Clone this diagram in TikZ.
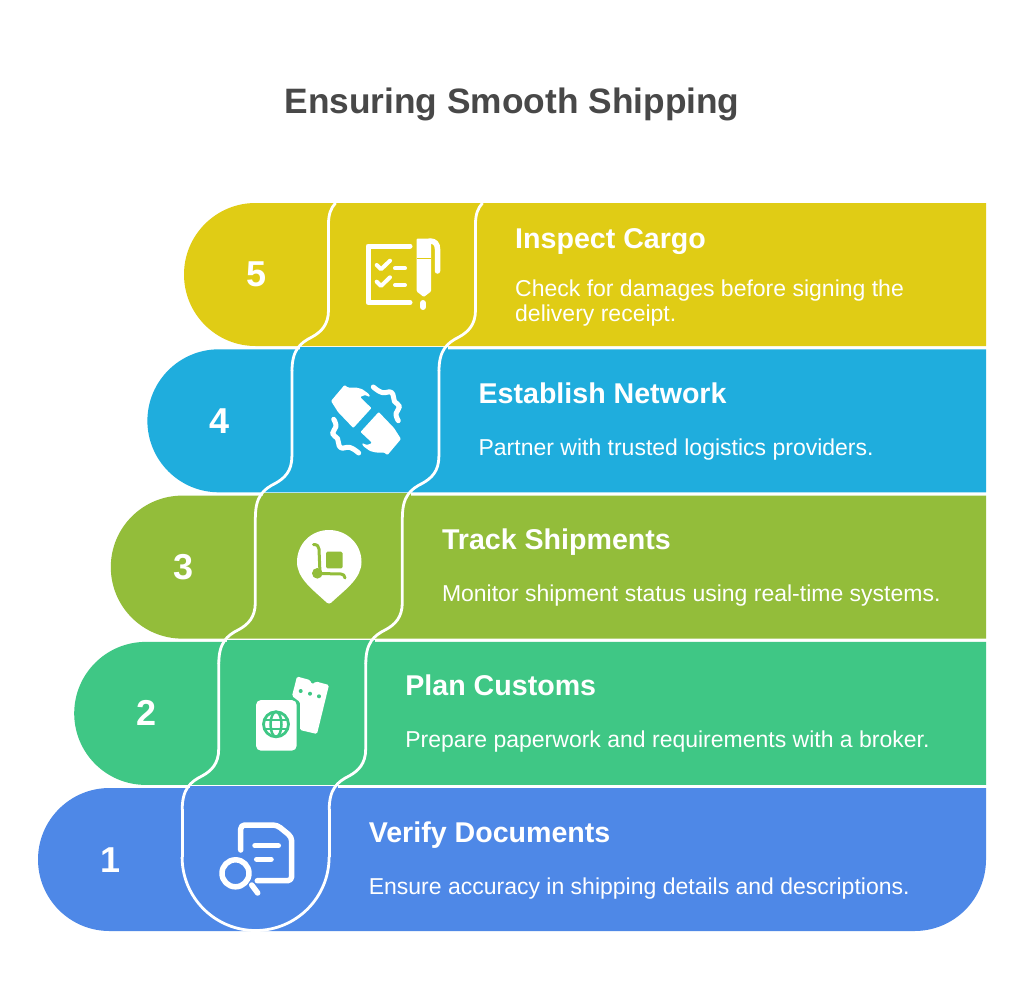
\documentclass[tikz,border=0pt]{standalone}
\usepackage{fontspec}
\setmainfont{Liberation Sans}
\definecolor{rowyellow}{HTML}{E0CC15}
\definecolor{rowsky}{HTML}{1FADDD}
\definecolor{rowolive}{HTML}{93BD3A}
\definecolor{rowgreen}{HTML}{3FC785}
\definecolor{rowblue}{HTML}{4E88E7}
\definecolor{titlegray}{HTML}{484848}
\begin{document}
\begin{tikzpicture}[x=1pt,y=-1pt]
\tikzstyle{titletext}=[anchor=center,inner sep=0,text=titlegray,font=\fontsize{35.3}{42}\selectfont\bfseries]
\tikzstyle{numtext}=[anchor=center,inner sep=0,text=white,font=\fontsize{36}{42}\selectfont\bfseries]
\tikzstyle{headtext}=[anchor=base west,inner sep=0,text=white,font=\fontsize{28.6}{34}\selectfont\bfseries]
\tikzstyle{desctext}=[anchor=west,inner sep=0,align=left,text=white,font=\fontsize{23}{25}\selectfont]
\tikzstyle{seam}=[draw=white,line width=2.8pt]
\tikzstyle{icon}=[draw=white,line width=5.5pt,line cap=round,line join=round]
\path[use as bounding box,fill=white] (0,0) rectangle (1024,1006);
\node[titletext] at(512, 104) (title) {Ensuring Smooth Shipping};
\foreach \dx/\dy/\rowcol/\nextcol in {0/0/rowyellow/rowsky,-36.6/146.3/rowsky/rowolive,-73.2/292.6/rowolive/rowgreen,-109.8/438.9/rowgreen/rowblue}{
\begin{scope}[shift={(\dx,\dy)}]
\fill[\rowcol] (986-\dx,203) -- (255.5,203) arc[start angle=270,end angle=90,radius=71.5] -- (986-\dx,346) -- cycle;
\fill[\nextcol] (300,347) rectangle (448,349.5);
\end{scope}
}
\fill[rowblue] (986,788) -- (109.5,788) arc[start angle=270,end angle=90,radius=71.5] -- (914.5,931) arc[start angle=90,end angle=0,radius=71.5] -- cycle;
\foreach \xs in {0,147}{
\draw[seam] (335.5+\xs,203) .. controls (331+\xs,208) and (328.5+\xs,214) .. (328.5+\xs,224);
\foreach \dx/\dy in {0/0,-36.6/146.3,-73.2/292.6,-109.8/438.9}{
\draw[seam] (328.5+\xs+\dx,224+\dy) -- (328.5+\xs+\dx,310+\dy) .. controls (328.5+\xs+\dx,325+\dy) and (321+\xs+\dx,332+\dy) .. (312+\xs+\dx,337+\dy) .. controls (300+\xs+\dx,343+\dy) and (292+\xs+\dx,350+\dy) .. (292+\xs+\dx,371+\dy);
}
\draw[seam] (182.1+\xs,809) -- (182.1+\xs,857);
}
\draw[seam] (182.1,857) arc[start angle=180,end angle=0,radius=73.5];
\foreach \n/\dx/\dy/\hy/\head/\desc in {5/0/0/248/Inspect Cargo/{Check for damages before signing the\\delivery receipt.},
4/-36.6/146.3/257/Establish Network/{Partner with trusted logistics providers.},
3/-73.2/292.6/257/Track Shipments/{Monitor shipment status using real-time systems.},
2/-109.8/438.9/257/Plan Customs/{Prepare paperwork and requirements with a broker.},
1/-146.4/585.2/257/Verify Documents/{Ensure accuracy in shipping details and descriptions.}}{
\begin{scope}[shift={(\dx,\dy)}]
\node[numtext] at(256.5, 274.5) (num\n) {\n};
\node[headtext] at(515, \hy) (head\n) {\head};
\node[desctext] at(515, 303) (desc\n) {\desc};
\end{scope}
}
\draw[icon,line width=5pt] (410,246) -- (368,246) -- (368,302.5) -- (410,302.5);
\draw[icon,line width=4pt] (376.7,265) -- (381,269.3) -- (390,260.7);
\draw[icon,line width=4pt] (395,268.3) -- (405,268.3);
\draw[icon,line width=4pt] (376.7,281.7) -- (381,286) -- (390,277.3);
\draw[icon,line width=4pt] (395,285) -- (405,285);
\fill[white,rounded corners=1pt] (416.7,238.5) -- (431,238.5) -- (431,291.5) -- (423.8,297) -- (416.7,291.5) -- cycle;
\draw[icon] (430,241) .. controls (435,241) and (437.5,244) .. (437.5,249) -- (437.5,271);
\draw[rowyellow,line width=.8pt] (416.7,258.5) -- (431,258.5);
\draw[icon,line width=6pt] (423,303) -- (423,307);
\foreach \ang in {0,180}{
\begin{scope}[rotate around={\ang:(366,420)}]
\fill[white,rounded corners=1pt] (331,401) -- (344.5,385) -- (348,387.5) -- (356,387.5) -- (362,389) -- (369,394) -- (370,397) -- (365,395) -- (360,397) -- (365,402) -- (371.5,408) -- (353.3,428) -- (338,412) -- cycle;
\draw[icon,line width=5pt] plot[smooth,tension=.8] coordinates {(373.3,387) (382,392.5) (391.5,392.5) (394.5,401.5) (399.5,406.5) (396,413.5) (398.3,420.7)};
\end{scope}
}
\fill[white] (329,603.5) .. controls (327.5,603.5) and (326.5,602.5) .. (325,601) .. controls (312,589) and (297,578) .. (297,562) .. controls (297,544) and (311,530) .. (329,530) .. controls (347,530) and (361.5,544) .. (361.5,562) .. controls (361.5,578) and (346,589) .. (333,601) .. controls (331.5,602.5) and (330.5,603.5) .. (329,603.5) -- cycle;
\fill[rowolive,rounded corners=1.5pt] (326,551.7) rectangle (342.7,568.3);
\draw[rowolive,line width=3pt,line cap=round,line join=round] (313.5,544.5) .. controls (317,544.5) and (319,546) .. (319,549) -- (320,573.5) -- (341,574) .. controls (343,574) and (345,575.5) .. (345,578);
\fill[rowolive] (317.3,573.3) circle[radius=5.3];
\fill[white,rounded corners=5pt] (256,700) rectangle (296.7,750.7);
\draw[rowgreen,line width=2.8pt] (276,724.3) circle[radius=12.5];
\draw[rowgreen,line width=2.5pt] (276,724.3) ellipse[x radius=5.5,y radius=12.5];
\draw[rowgreen,line width=2.5pt] (264.5,720) -- (287.5,720);
\draw[rowgreen,line width=2.5pt] (264.5,729) -- (287.5,729);
\fill[white,rounded corners=1.5pt] (297,676.5) -- (310,680) -- (312,684.5) -- (316,681.5) -- (329,685) -- (317,734) -- (300,730) -- (300,702) -- (292,696) -- cycle;
\fill[rowgreen] (300.7,691) circle[radius=2];
\fill[rowgreen] (310,693.7) circle[radius=2];
\fill[rowgreen] (319,696.3) circle[radius=2];
\draw[icon,rounded corners=4pt] (240.7,850) -- (240.7,825) -- (277,825) -- (291.7,837) -- (291.7,880.7) -- (257.3,880.7);
\draw[icon] (255,845.7) -- (278.3,845.7);
\draw[icon] (256.7,859.3) -- (271,859.3);
\draw[icon] (235.5,873.3) circle[radius=13.5];
\draw[icon] (251.7,885) -- (257.7,893);
\end{tikzpicture}
\end{document}
